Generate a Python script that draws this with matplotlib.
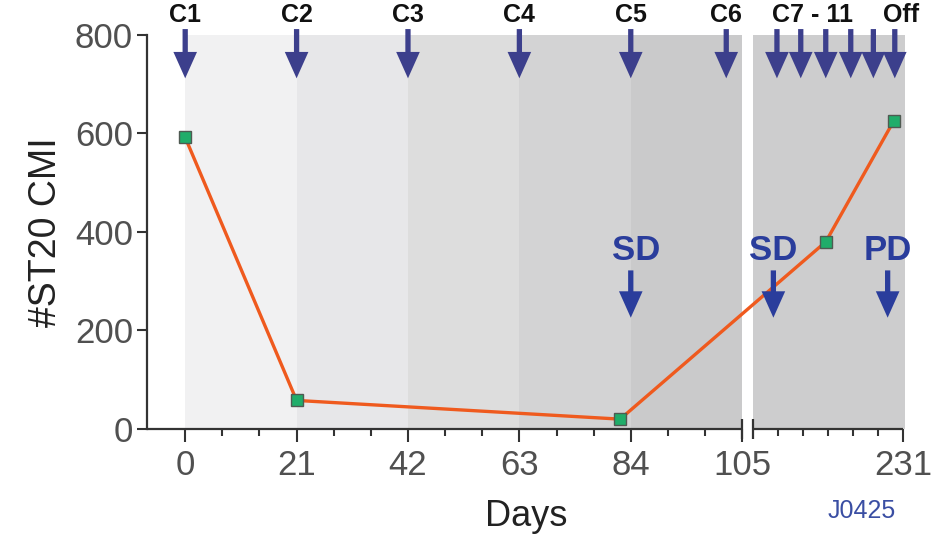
import numpy as np
import matplotlib
matplotlib.use("Agg")
import matplotlib.pyplot as plt

plt.rcParams["font.family"] = ["Liberation Sans", "DejaVu Sans"]

# ---- data -------------------------------------------------------------
days = [0, 21, 82, 166, 223]
cmi = [592, 58, 20, 380, 625]

cycle_labels = ["C1", "C2", "C3", "C4", "C5", "C6"]
cycle_days = [0, 21, 42, 63, 84, 102]
late_cycle_days = [125, 145, 166, 187, 206, 224]

response_labels = ["SD", "SD", "PD"]
response_days = [84, 122, 218]

band_edges = [0, 21, 42, 63, 84, 105]
band_colors = ["#f1f1f2", "#e7e7e9", "#dddddd", "#d3d3d4", "#cacacb"]
late_band_color = "#cdcdce"

major_ticks = [0, 21, 42, 63, 84, 105, 231]
major_labels = ["0", "21", "42", "63", "84", "105", "231"]
minor_ticks = [7, 14, 28, 35, 49, 56, 70, 77, 91, 98, 126, 147, 168, 189, 210]
y_ticks = [0, 200, 400, 600, 800]

# ---- broken time axis: days after the break are compressed -------------
BREAK = 105.0
GAP = 2.07
K = 0.2244
EPS = 0.001


def fwd(d):
    d = np.asarray(d, float)
    return np.where(d <= BREAK, d, BREAK + GAP + (d - BREAK) * K)


def inv(p):
    p = np.asarray(p, float)
    return np.where(p <= BREAK, p,
                    np.where(p >= BREAK + GAP, BREAK + (p - BREAK - GAP) / K, BREAK))


fig = plt.figure(figsize=(9.31, 5.39), dpi=100)
ax = fig.add_axes([0.1579, 0.2041, 0.8142, 0.7310])
ax.set_xscale("function", functions=(fwd, inv))
XMIN, XMAX = -7.2, 232.6
ax.set_xlim(XMIN, XMAX)
ax.set_ylim(0, 800)

# shaded treatment-cycle bands
for (a, b), c in zip(zip(band_edges[:-1], band_edges[1:]), band_colors):
    ax.axvspan(a, b, color=c, lw=0, zorder=0)
ax.axvspan(BREAK + EPS, XMAX, color=late_band_color, lw=0, zorder=0)

# axes frame
axis_col = "#333333"
for s in ["top", "right", "bottom"]:
    ax.spines[s].set_visible(False)
ax.spines["left"].set_linewidth(1.6)
ax.spines["left"].set_color(axis_col)
ax.plot([XMIN, BREAK], [0, 0], color=axis_col, lw=1.6, clip_on=False,
        solid_capstyle="butt", zorder=3)
ax.plot([BREAK + EPS, 231], [0, 0], color=axis_col, lw=1.6, clip_on=False,
        solid_capstyle="butt", zorder=3)
ax.plot([BREAK, BREAK + EPS], [0, 0], ls="none", marker="|", markersize=14,
        mew=1.6, color=axis_col, clip_on=False, zorder=3)

ax.set_xticks(major_ticks)
ax.set_xticklabels(major_labels)
ax.set_xticks(minor_ticks, minor=True)
ax.set_yticks(y_ticks)
ax.tick_params(axis="x", which="major", length=9.5, width=1.5, color=axis_col,
               labelsize=25, labelcolor="#505050", pad=5)
ax.tick_params(axis="x", which="minor", length=5, width=1.5, color=axis_col)
ax.tick_params(axis="y", which="major", length=7, width=1.5, color=axis_col,
               labelsize=25, labelcolor="#505050", pad=3)
ax.xaxis.set_minor_formatter(plt.NullFormatter())

ax.set_xlabel("Days", fontsize=26, color="#222222", labelpad=12)
ax.set_ylabel("#ST20 CMI", fontsize=27, color="#222222", labelpad=8)

# CMI counts
ax.plot(days, cmi, color="#ef5a1e", lw=2.4, zorder=4, clip_on=False,
        marker="s", markersize=9, markerfacecolor="#20ad6a",
        markeredgecolor="#4f5a52", markeredgewidth=1.0)

# treatment-cycle arrows
navy = "#3c3f8c"
arrow_style = "simple,head_length=1.9,head_width=1.7,tail_width=0.38"
for d in cycle_days + late_cycle_days:
    ax.annotate("", xy=(d, 712), xytext=(d, 812), annotation_clip=False,
                arrowprops=dict(arrowstyle=arrow_style, color=navy, lw=0,
                                shrinkA=0, shrinkB=0, mutation_scale=10))
for lab, d in zip(cycle_labels, cycle_days):
    ax.text(d, 840, lab, ha="center", va="center", fontsize=18,
            fontweight="bold", color="#111111", clip_on=False)
ax.text(154.5, 840, "C7 - 11", ha="center", va="center", fontsize=18,
        fontweight="bold", color="#111111", clip_on=False)
ax.text(229, 840, "Off", ha="center", va="center", fontsize=18,
        fontweight="bold", color="#111111", clip_on=False)

# response assessments
blue = "#2a3d9c"
for lab, d in zip(response_labels, response_days):
    ax.annotate("", xy=(d, 226), xytext=(d, 322), annotation_clip=False,
                arrowprops=dict(arrowstyle=arrow_style, color=blue, lw=0,
                                shrinkA=0, shrinkB=0, mutation_scale=10),
                zorder=5)
    ax.text(d + 1.0 if d < BREAK else d, 363, lab, ha="center", va="center",
            fontsize=25, fontweight="bold", color=blue, zorder=5)

fig.text(862 / 931, 1 - 511 / 539, "J0425", ha="center", va="center",
         fontsize=18, color="#3a4ea3")

fig.savefig("out.png", dpi=100)
